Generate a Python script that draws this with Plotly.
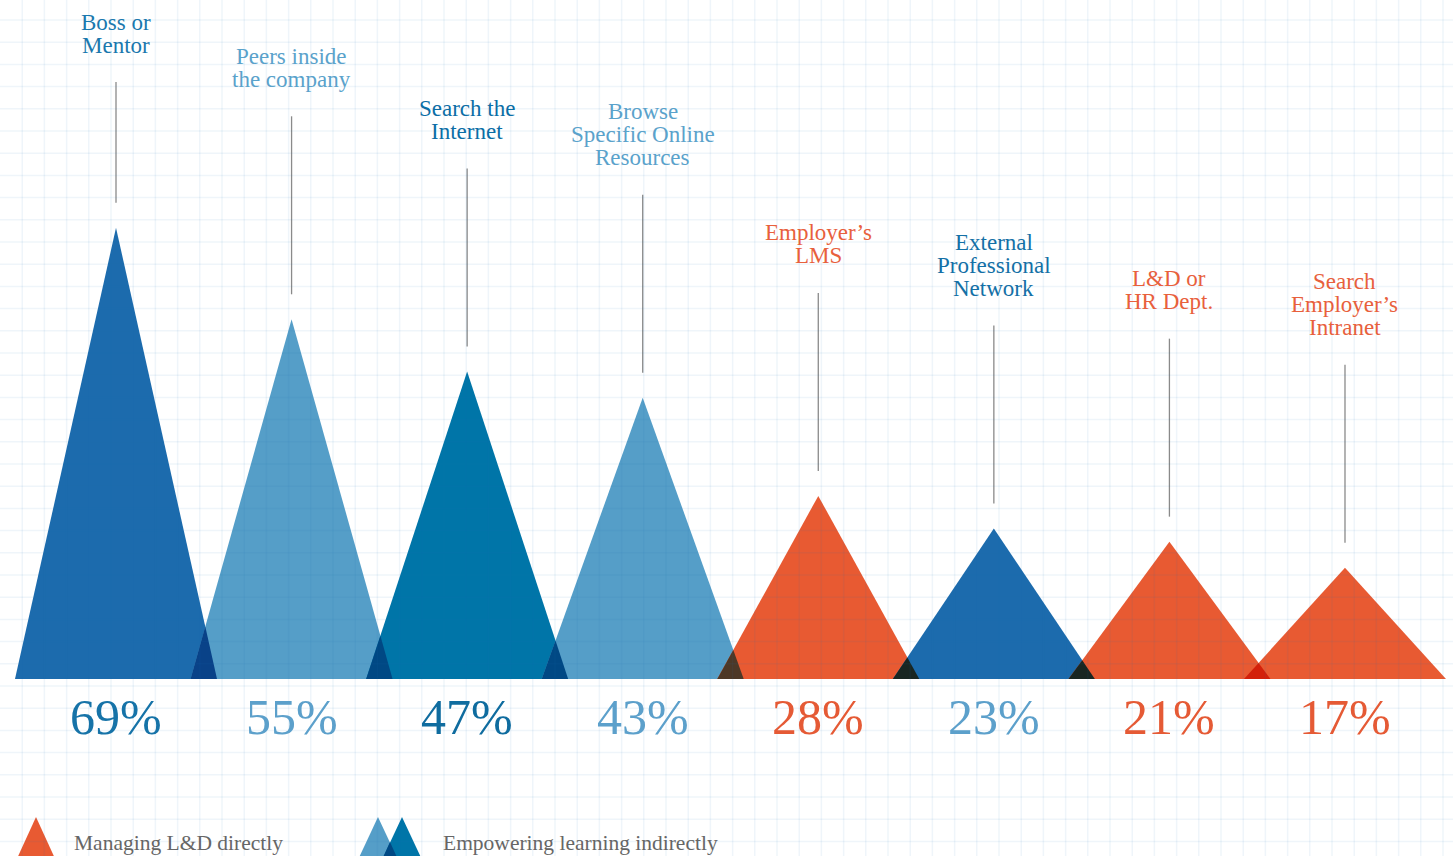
import plotly.graph_objects as go

# ---------------- data ----------------
categories = [
    "Boss or\nMentor",
    "Peers inside\nthe company",
    "Search the\nInternet",
    "Browse\nSpecific Online\nResources",
    "Employer\u2019s\nLMS",
    "External\nProfessional\nNetwork",
    "L&D or\nHR Dept.",
    "Search\nEmployer\u2019s\nIntranet",
]
values = [69, 55, 47, 43, 28, 23, 21, 17]
fill_colors = ["#1C6BAD", "#559EC8", "#0075A8", "#559EC8",
               "#E85A32", "#1C6BAD", "#E85A32", "#E85A32"]
label_colors = ["#1A78AE", "#5AA2CB", "#0B6EA6", "#5AA2CB",
                "#E8603C", "#1470A6", "#E8603C", "#E8603C"]
pct_colors = ["#1673A8", "#5CA0CB", "#0F6C9F", "#5CA0CB",
              "#E55A35", "#5CA0CB", "#E55A35", "#E55A35"]
legend_labels = ["Managing L&D directly", "Empowering learning indirectly"]
legend_orange = "#E85A32"
legend_blues = ["#559EC8", "#0075A8"]

# ---------------- layout constants ----------------
W, H = 1453, 856
X_PX0, X_STEP = 116.0, 175.57      # pixel of first category, pixels per category
Y_BASE, Y_SCALE = 679.0, 6.54      # baseline pixel, pixels per percentage point
HALF = 101.0 / X_STEP              # half base width of each triangle
FONT = "Liberation Serif"

x_range = [-X_PX0 / X_STEP, (W - X_PX0) / X_STEP]
y_range = [-(H - Y_BASE) / Y_SCALE, Y_BASE / Y_SCALE]


def px2y(py):
    return (Y_BASE - py) / Y_SCALE


def hex2rgb(h):
    h = h.lstrip("#")
    return tuple(int(h[k:k + 2], 16) for k in (0, 2, 4))


def multiply(c1, c2):
    a, b = hex2rgb(c1), hex2rgb(c2)
    return "rgb(%d,%d,%d)" % tuple(round(x * y / 255) for x, y in zip(a, b))


fig = go.Figure()

# triangles
for i, (v, c) in enumerate(zip(values, fill_colors)):
    fig.add_trace(go.Scatter(
        x=[i - HALF, i, i + HALF, i - HALF], y=[0, v, 0, 0],
        mode="lines", fill="toself", fillcolor=c,
        line=dict(width=0, color=c), hoverinfo="skip", showlegend=False))

# overlaps (multiply blend)
for i in range(len(values) - 1):
    j = i + 1
    pi, pj = values[i], values[j]
    xs = (pi * (i + HALF) + pj * (j - HALF)) / (pi + pj)
    ys = pi * (i + HALF - xs) / HALF
    col = multiply(fill_colors[i], fill_colors[j])
    fig.add_trace(go.Scatter(
        x=[j - HALF, xs, i + HALF, j - HALF], y=[0, ys, 0, 0],
        mode="lines", fill="toself", fillcolor=col,
        line=dict(width=0, color=col), hoverinfo="skip", showlegend=False))

shapes = []
annotations = []

# leader lines and labels
LINE_H = 23
for i, (v, lab) in enumerate(zip(values, categories)):
    apex_px = Y_BASE - v * Y_SCALE
    lines = lab.split("\n")
    n = len(lines)
    label_px = max(apex_px - 240, 22 + LINE_H * (n - 1))   # centre of last label line
    shapes.append(dict(type="line", xref="x", yref="y",
                       x0=i, x1=i, y0=v + 25 / Y_SCALE, y1=px2y(label_px + 37),
                       line=dict(color="#8a8a8a", width=1.3), layer="above"))
    for k, t in enumerate(lines):
        annotations.append(dict(
            x=i, y=px2y(label_px), xref="x", yref="y", text=t, showarrow=False,
            xanchor="center", yanchor="middle", yshift=LINE_H * (n - 1 - k),
            font=dict(family=FONT, size=23, color=label_colors[i])))
    annotations.append(dict(
        x=i, y=0, xref="x", yref="y", text=f"{v}%", showarrow=False,
        xanchor="center", yanchor="middle", yshift=-38,
        font=dict(family=FONT, size=50, color=pct_colors[i])))

# background grid (drawn above, very faint, mimicking multiply)
GRID = 22.2
gx = GRID
while gx < W:
    shapes.append(dict(type="line", xref="paper", yref="paper",
                       x0=gx / W, x1=gx / W, y0=0, y1=1,
                       line=dict(color="rgba(30,110,180,0.07)", width=1.5), layer="above"))
    gx += GRID
gy = 20.0
while gy < H:
    shapes.append(dict(type="line", xref="paper", yref="paper",
                       x0=0, x1=1, y0=1 - gy / H, y1=1 - gy / H,
                       line=dict(color="rgba(30,110,180,0.07)", width=1.5), layer="above"))
    gy += GRID


# legend glyphs
def tri_path(cx, top, half, bottom):
    pts = [(cx - half, bottom), (cx, top), (cx + half, bottom)]
    return "M " + " L ".join(f"{x / W:.5f},{1 - y / H:.5f}" for x, y in pts) + " Z"


shapes.append(dict(type="path", xref="paper", yref="paper",
                   path=tri_path(36, 817, 21.5, 864), fillcolor=legend_orange,
                   line=dict(width=0), layer="below"))
shapes.append(dict(type="path", xref="paper", yref="paper",
                   path=tri_path(378, 817, 22, 864), fillcolor=legend_blues[0],
                   line=dict(width=0), layer="below"))
shapes.append(dict(type="path", xref="paper", yref="paper",
                   path=tri_path(402, 817, 22, 864), fillcolor=legend_blues[1],
                   line=dict(width=0), layer="below"))
# overlap of the two legend blues
ov = "M " + " L ".join(f"{x / W:.5f},{1 - y / H:.5f}" for x, y in
                       [(380, 864), (390, 842), (400, 864)]) + " Z"
shapes.append(dict(type="path", xref="paper", yref="paper", path=ov,
                   fillcolor=multiply(legend_blues[0], legend_blues[1]),
                   line=dict(width=0), layer="below"))

annotations.append(dict(x=72 / W, y=1 - 843 / H, xref="paper", yref="paper",
                        text=legend_labels[0], showarrow=False, xanchor="left", yanchor="middle",
                        font=dict(family=FONT, size=21.5, color="#666666")))
annotations.append(dict(x=441 / W, y=1 - 843 / H, xref="paper", yref="paper",
                        text=legend_labels[1], showarrow=False, xanchor="left", yanchor="middle",
                        font=dict(family=FONT, size=21.5, color="#666666")))

fig.update_layout(
    width=W, height=H,
    margin=dict(l=0, r=0, t=0, b=0),
    paper_bgcolor="white", plot_bgcolor="white",
    xaxis=dict(range=x_range, visible=False, fixedrange=True),
    yaxis=dict(range=y_range, visible=False, fixedrange=True),
    shapes=shapes, annotations=annotations,
    showlegend=False,
)

fig.write_html("out.html", config={"displayModeBar": False})
